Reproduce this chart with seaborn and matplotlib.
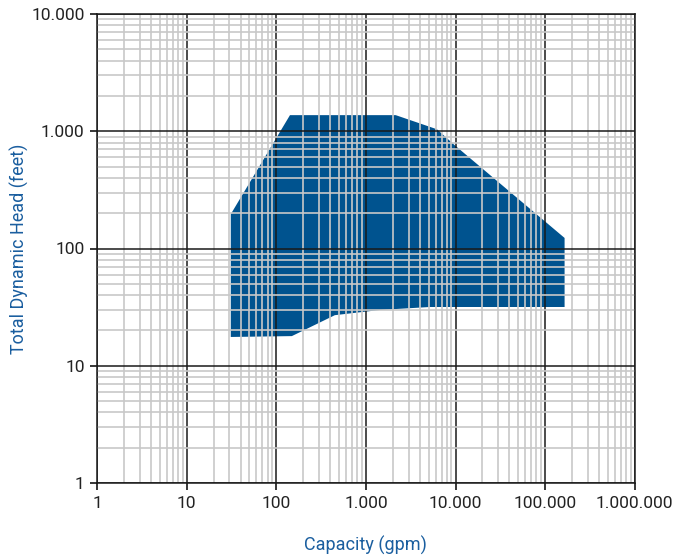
import matplotlib
matplotlib.use("Agg")
import matplotlib.pyplot as plt
from matplotlib.ticker import FixedLocator, FuncFormatter, LogLocator, NullFormatter
import seaborn as sns

# operating range envelope (gpm, feet), traced clockwise from lower left
capacity = [31, 31, 142, 2150, 6200, 9800, 165000, 165000, 5150, 1430, 450, 149]
head = [17.6, 196, 1372, 1372, 1040, 760, 123, 31.7, 31.7, 29.9, 27, 17.9]

x_ticks = [1, 10, 100, 1000, 10000, 100000, 1000000]
y_ticks = [1, 10, 100, 1000, 10000]

fill_color = "#00538f"
label_color = "#1a5e9f"

sns.set_theme(style="white")
plt.rcParams['font.family'] = ['Roboto', 'DejaVu Sans']

fig = plt.figure(figsize=(6.99, 5.6), dpi=100)
ax = fig.add_axes([0.139, 0.1375, 0.769, 0.8375])

ax.fill(capacity, head, color=fill_color, lw=0, zorder=1)

ax.set_xscale("log")
ax.set_yscale("log")
ax.set_xlim(1, 1e6)
ax.set_ylim(1, 1e4)

fmt = FuncFormatter(lambda v, p: f"{int(round(v)):,}".replace(",", "."))
ax.xaxis.set_major_locator(FixedLocator(x_ticks))
ax.yaxis.set_major_locator(FixedLocator(y_ticks))
ax.xaxis.set_major_formatter(fmt)
ax.yaxis.set_major_formatter(fmt)
for axis in (ax.xaxis, ax.yaxis):
    axis.set_minor_locator(LogLocator(base=10, subs=range(2, 10), numticks=20))
    axis.set_minor_formatter(NullFormatter())

ax.grid(which="minor", color="#c8c8c8", lw=1.2, zorder=2)
ax.grid(which="major", color="#1a1a1a", lw=1.1, zorder=3)
ax.set_axisbelow(False)

ax.tick_params(which="major", direction="out", length=5, width=1.1, color="black",
               labelsize=12.5, labelcolor="#222222", left=True, bottom=True, pad=4)
ax.tick_params(which="minor", length=0)
for s in ax.spines.values():
    s.set_color("#1a1a1a")
    s.set_linewidth(1.1)
    s.set_zorder(4)

ax.set_xlabel("Capacity (gpm)", color=label_color, fontsize=13)
ax.set_ylabel("Total Dynamic Head (feet)", color=label_color, fontsize=13)
ax.xaxis.set_label_coords(0.5, -0.112)
ax.yaxis.set_label_coords(-0.126, 0.5)

fig.savefig("out.png", dpi=100)
